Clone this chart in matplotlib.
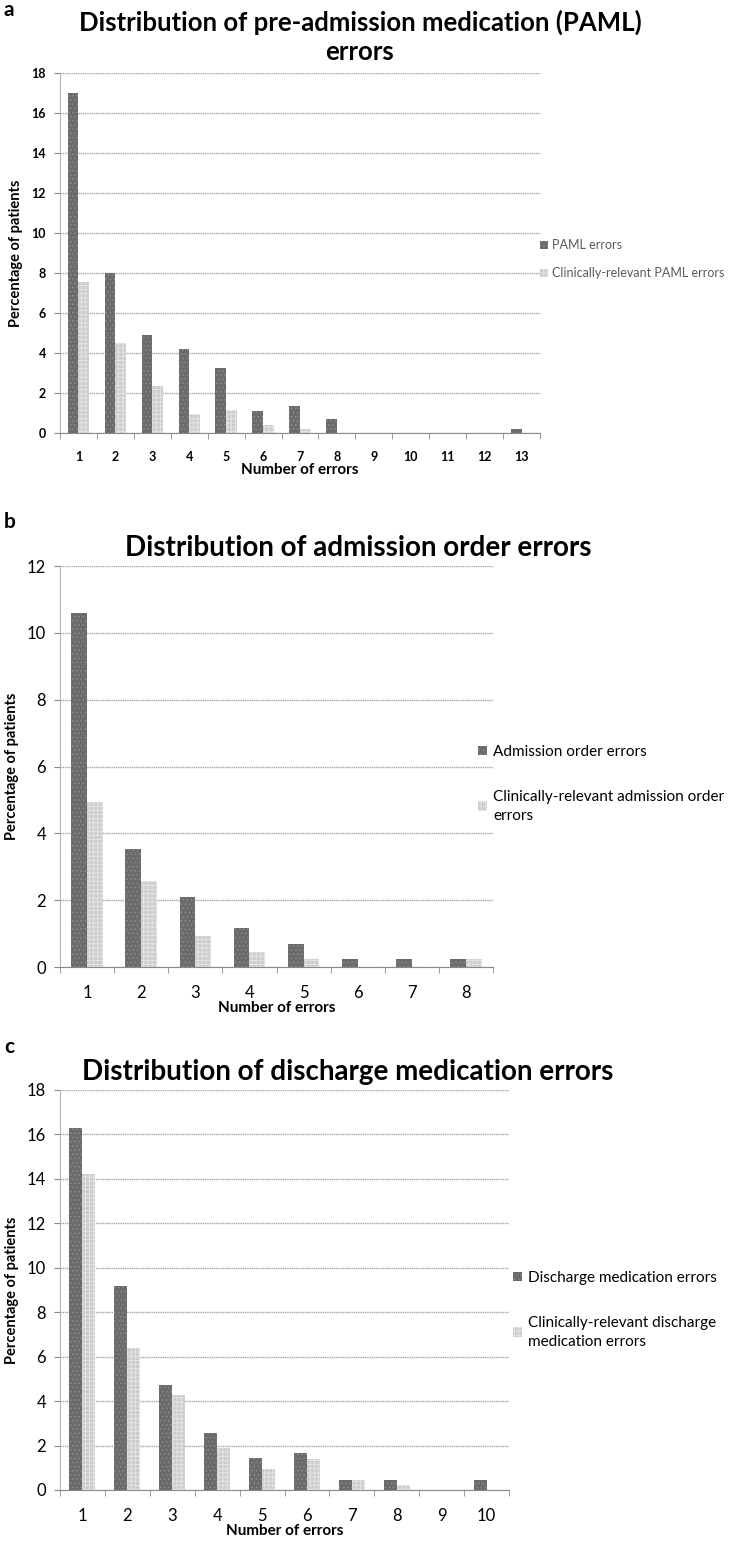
import numpy as np
import matplotlib
matplotlib.use("Agg")
import matplotlib.pyplot as plt

plt.rcParams['font.family'] = ['Lato', 'DejaVu Sans']
plt.rcParams['hatch.linewidth'] = 0.6

# panel a: pre-admission medication (PAML) errors
a_cats = list(range(1, 14))
a_all = [17.0, 8.0, 4.9, 4.2, 3.25, 1.1, 1.35, 0.7, 0, 0, 0, 0, 0.2]
a_rel = [7.55, 4.5, 2.35, 0.95, 1.15, 0.4, 0.2, 0, 0, 0, 0, 0, 0]
a_labels = ["PAML errors", "Clinically-relevant PAML errors"]

# panel b: admission order errors
b_cats = list(range(1, 9))
b_all = [10.6, 3.53, 2.1, 1.17, 0.7, 0.23, 0.23, 0.23]
b_rel = [4.95, 2.57, 0.93, 0.45, 0.23, 0, 0, 0.23]
b_labels = ["Admission order errors", "Clinically-relevant admission order\nerrors"]

# panel c: discharge medication errors
c_cats = list(range(1, 11))
c_all = [16.3, 9.2, 4.73, 2.57, 1.43, 1.65, 0.47, 0.47, 0, 0.47]
c_rel = [14.2, 6.4, 4.28, 1.87, 0.95, 1.4, 0.47, 0.23, 0, 0]
c_labels = ["Discharge medication errors", "Clinically-relevant discharge\nmedication errors"]

W, H = 737, 1543
fig = plt.figure(figsize=(W / 100, H / 100), dpi=100)

def fx(px):
    return px / W

def fy(py):
    return 1 - py / H

def panel(letter, rect, cats, s1, s2, labels, ymax, title_lines, title_x, title_y,
          title_fs, letter_y, leg_x, leg_y, leg_sp, tick_fs, tick_weight,
          leg_fs, leg_weight, leg_color):
    left, top, right, bottom = rect
    ax = fig.add_axes([fx(left), fy(bottom), fx(right - left), (bottom - top) / H])
    x = np.arange(len(cats))
    w = 0.29
    ax.bar(x - w / 2, s1, w, color='#6b6b6b', edgecolor='#8a8a8a', hatch='....',
           linewidth=0, label=labels[0], zorder=3)
    ax.bar(x + w / 2, s2, w, color='#cdcdcd', edgecolor='#e6e6e6', hatch='++++',
           linewidth=0, label=labels[1], zorder=3)
    ax.set_xlim(-0.5, len(cats) - 0.5)
    ax.set_ylim(0, ymax)
    ax.set_yticks(np.arange(0, ymax + 1, 2))
    ax.set_xticks(x)
    ax.set_xticklabels([str(c) for c in cats])
    ax.set_xticks(np.arange(-0.5, len(cats), 1), minor=True)
    ax.tick_params(axis='x', which='major', length=0, pad=13, labelsize=tick_fs)
    ax.tick_params(axis='x', which='minor', length=4, color='#8a8a8a', direction='out')
    ax.tick_params(axis='y', length=4, color='#8a8a8a', labelsize=tick_fs, pad=6)
    for lab in ax.get_xticklabels() + ax.get_yticklabels():
        lab.set_fontweight(tick_weight)
    ax.yaxis.grid(True, color='#a6a6a6', linestyle=(0, (1, 0.6)), linewidth=1.0, zorder=0)
    for s in ['top', 'right']:
        ax.spines[s].set_visible(False)
    ax.spines['left'].set_color('#b5b5b5')
    ax.spines['left'].set_linestyle((0, (1, 1)))
    ax.spines['bottom'].set_color('#8a8a8a')
    ax.set_xlabel("Number of errors", fontsize=11, fontweight='bold', labelpad=0)
    ax.set_ylabel("Percentage of patients", fontsize=10.5, fontweight='bold', labelpad=6)
    leg = ax.legend(loc='upper left', bbox_to_anchor=(fx(leg_x), fy(leg_y)),
                    bbox_transform=fig.transFigure, frameon=False,
                    handlelength=0.6, handleheight=0.6, handletextpad=0.4,
                    labelspacing=leg_sp, borderaxespad=0, borderpad=0,
                    prop={'weight': leg_weight, 'size': leg_fs},
                    labelcolor=leg_color)
    for t in leg.get_texts():
        t.set_linespacing(1.45)
    for i, line in enumerate(title_lines):
        fig.text(fx(title_x), fy(title_y + i * 30), line, ha='center', va='center',
                 fontsize=title_fs, fontweight='bold')
    fig.text(fx(4), fy(letter_y), letter, ha='left', va='center',
             fontsize=15, fontweight='bold')
    return ax

panel('a', (60, 73, 540, 433), a_cats, a_all, a_rel, a_labels, 18,
      ["Distribution of pre-admission medication (PAML)", "errors"], 360, 22, 18.5, 10,
      540, 239, 1.3, 9, 'bold', 9.0, 'normal', '#5a5a5a')
panel('b', (60, 566, 493, 967), b_cats, b_all, b_rel, b_labels, 12,
      ["Distribution of admission order errors"], 358, 548, 20, 522,
      478, 745, 2.0, 12, 'normal', 11, 'normal', 'black')
panel('c', (60, 1090, 509, 1490), c_cats, c_all, c_rel, c_labels, 18,
      ["Distribution of discharge medication errors"], 348, 1072, 20, 1047,
      513, 1271, 2.0, 12, 'normal', 11, 'normal', 'black')

fig.savefig("out.png", dpi=100)
